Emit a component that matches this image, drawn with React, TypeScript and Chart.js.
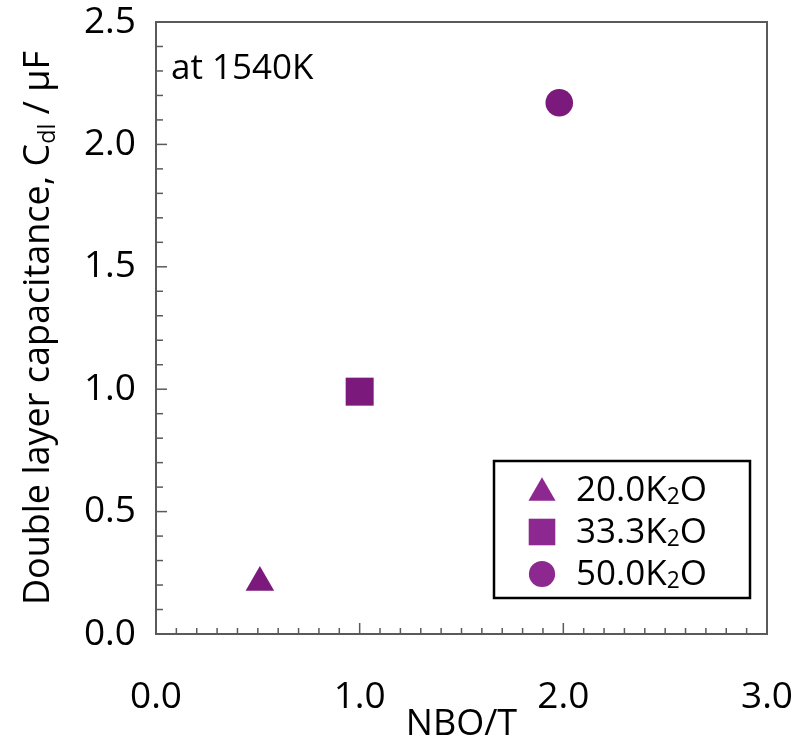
import React, { useEffect, useRef } from "react";
import { Chart, registerables } from "chart.js";
import { drawPoint } from "chart.js/helpers";

Chart.register(...registerables);

const seriesNames = ["20.0K", "33.3K", "50.0K"];
const seriesX = [0.51, 1.0, 1.98];
const seriesY = [0.21, 0.99, 2.17];
const pointStyles = ["triangle", "rect", "circle"];
const pointRadii = [16.5, 19.8, 13.8];
const xTicks = [0, 1, 2, 3];
const yTicks = [0, 0.5, 1, 1.5, 2, 2.5];
const annotationText = "at 1540K";
const xTitle = "NBO/T";

const FONT = "'Open Sans', 'Noto Sans', sans-serif";
const DATA_COLOR = "#7b1a7c";
const LEGEND_COLOR = "#8d2891";
const AXIS_COLOR = "#5a5a5a";

const framePlugin = {
  id: "frame",
  beforeDatasetsDraw(chart: any) {
    const { ctx, chartArea } = chart;
    const xs = chart.scales.x;
    const ys = chart.scales.y;
    ctx.save();
    ctx.strokeStyle = AXIS_COLOR;
    ctx.lineWidth = 2;
    ctx.strokeRect(chartArea.left, chartArea.top, chartArea.right - chartArea.left, chartArea.bottom - chartArea.top);
    ctx.lineWidth = 1.5;
    for (let i = 1; i < 30; i++) {
      const v = i / 10;
      const px = xs.getPixelForValue(v);
      const len = i % 10 === 0 ? 11 : 6;
      ctx.beginPath();
      ctx.moveTo(px, chartArea.bottom);
      ctx.lineTo(px, chartArea.bottom - len);
      ctx.stroke();
    }
    for (let i = 1; i < 25; i++) {
      const v = i / 10;
      const py = ys.getPixelForValue(v);
      const len = i % 5 === 0 ? 11 : 7;
      ctx.beginPath();
      ctx.moveTo(chartArea.left, py);
      ctx.lineTo(chartArea.left + len, py);
      ctx.stroke();
    }
    ctx.restore();
  },
};

function drawSubText(ctx: any, parts: { t: string; sub?: boolean }[], x: number, y: number, size: number) {
  let cx = x;
  for (const p of parts) {
    const s = p.sub ? size * 0.65 : size;
    ctx.font = `${s}px ${FONT}`;
    ctx.fillText(p.t, cx, p.sub ? y + size * 0.18 : y);
    cx += ctx.measureText(p.t).width;
  }
  return cx - x;
}

function measureSubText(ctx: any, parts: { t: string; sub?: boolean }[], size: number) {
  let w = 0;
  for (const p of parts) {
    const s = p.sub ? size * 0.65 : size;
    ctx.font = `${s}px ${FONT}`;
    w += ctx.measureText(p.t).width;
  }
  return w;
}

const textPlugin = {
  id: "texts",
  afterDraw(chart: any) {
    const { ctx, chartArea } = chart;
    ctx.save();
    ctx.fillStyle = "#000";
    ctx.textBaseline = "alphabetic";
    ctx.textAlign = "left";
    ctx.font = `35px ${FONT}`;
    ctx.fillText(annotationText, 171, 79);
    const parts = [
      { t: "Double layer capacitance, C" },
      { t: "dl", sub: true },
      { t: " / \u03bcF" },
    ];
    const size = 36;
    const w = measureSubText(ctx, parts, size);
    ctx.translate(49, (chartArea.top + chartArea.bottom) / 2);
    ctx.rotate(-Math.PI / 2);
    drawSubText(ctx, parts, -w / 2, 0, size);
    ctx.restore();

    ctx.save();
    const bx = 494, by = 461, bw = 256, bh = 137;
    ctx.fillStyle = "#fff";
    ctx.fillRect(bx, by, bw, bh);
    ctx.strokeStyle = "#000";
    ctx.lineWidth = 2.5;
    ctx.strokeRect(bx, by, bw, bh);
    const rows = [490, 532, 574];
    for (let i = 0; i < seriesNames.length; i++) {
      ctx.fillStyle = LEGEND_COLOR;
      ctx.strokeStyle = LEGEND_COLOR;
      ctx.lineWidth = 0;
      drawPoint(ctx, { pointStyle: pointStyles[i], radius: pointRadii[i] * 0.95, borderWidth: 0, rotation: 0 } as any, 542, rows[i] + (i === 0 ? 3 : 0));
      ctx.fillStyle = "#000";
      ctx.textBaseline = "middle";
      drawSubText(ctx, [{ t: seriesNames[i] }, { t: "2", sub: true }, { t: "O" }], 576, rows[i] + 1, 35);
    }
    ctx.restore();
  },
};

export default function App() {
  const ref = useRef<HTMLCanvasElement>(null);
  useEffect(() => {
    if (!ref.current) return;
    const datasets = seriesNames.map((name, i) => ({
      label: name + "2O",
      data: [{ x: seriesX[i], y: seriesY[i] }],
      pointStyle: pointStyles[i] as any,
      pointRadius: pointRadii[i],
      pointHoverRadius: pointRadii[i],
      backgroundColor: DATA_COLOR,
      borderColor: DATA_COLOR,
      pointBorderWidth: 0,
      showLine: false,
    }));
    const chart = new Chart(ref.current, {
      type: "scatter",
      data: { datasets },
      plugins: [framePlugin, textPlugin],
      options: {
        animation: false,
        responsive: false,
        maintainAspectRatio: false,
        devicePixelRatio: 1,
        layout: { padding: { top: 22, right: 26, left: 0, bottom: 0 } },
        plugins: { legend: { display: false }, tooltip: { enabled: false } },
        scales: {
          x: {
            type: "linear",
            min: 0,
            max: 3,
            afterBuildTicks: (s: any) => {
              s.ticks = xTicks.map((v) => ({ value: v }));
            },
            afterFit: (s: any) => {
              s.height = 106;
              s.paddingLeft = 0;
              s.paddingRight = 0;
            },
            grid: { display: false, drawTicks: false },
            border: { display: false },
            ticks: {
              color: "#000",
              font: { family: FONT, size: 37 },
              padding: 41,
              maxRotation: 0,
              callback: (v: any) => Number(v).toFixed(1),
            },
            title: {
              display: true,
              text: xTitle,
              color: "#000",
              font: { family: FONT, size: 36 },
              padding: { top: 0, bottom: -6 },
            },
          },
          y: {
            type: "linear",
            min: 0,
            max: 2.5,
            afterBuildTicks: (s: any) => {
              s.ticks = yTicks.map((v) => ({ value: v }));
            },
            afterFit: (s: any) => {
              s.width = 156;
              s.paddingTop = 0;
              s.paddingBottom = 0;
            },
            grid: { display: false, drawTicks: false },
            border: { display: false },
            ticks: {
              color: "#000",
              font: { family: FONT, size: 37 },
              padding: 20,
              callback: (v: any) => Number(v).toFixed(1),
            },
          },
        },
      },
    });
    return () => chart.destroy();
  }, []);
  return (
    <div style={{ position: "fixed", left: 0, top: 0, width: 793, height: 740, background: "#fff" }}>
      <canvas ref={ref} width={793} height={740} style={{ width: 793, height: 740 }} />
    </div>
  );
}
